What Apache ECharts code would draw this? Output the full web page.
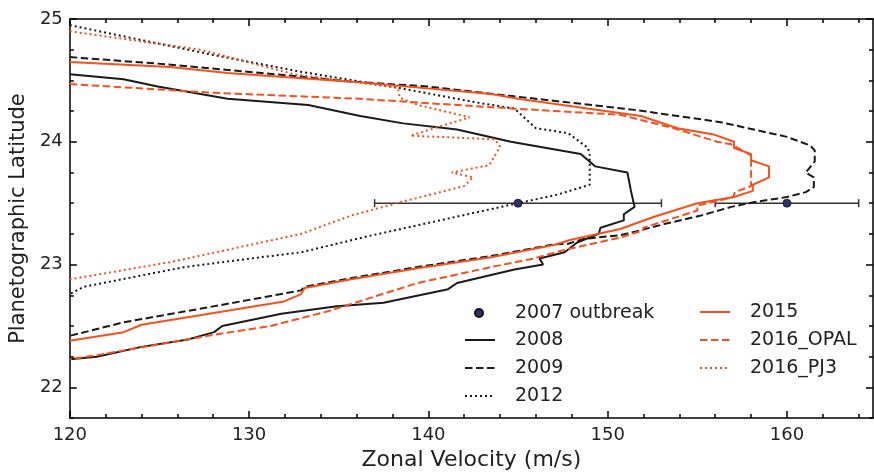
<!DOCTYPE html>
<html><head><meta charset="utf-8">
<script src="https://cdn.jsdelivr.net/npm/echarts@6/dist/echarts.min.js"></script>
<style>html,body{margin:0;padding:0;background:#fff}#c{width:874px;height:476px}</style>
</head><body><div id="c"></div>
<script>
// ---- data ----
const outbreakV = [145, 160];
const outbreakLat = [23.5, 23.5];
const outbreakErr = [8, 4];

const v2008 = [120.0,123.0,124.9,128.8,133.3,136.2,138.6,141.6,144.6,148.5,149.3,151.1,151.3,151.5,150.9,150.9,149.6,149.5,148.3,147.6,146.2,146.4,144.8,141.6,141.1,137.5,134.9,131.8,128.5,128.05,126.6,124.0,121.5,120.0];
const lat2008 = [24.55,24.51,24.45,24.35,24.30,24.21,24.15,24.10,24.00,23.90,23.80,23.75,23.60,23.47,23.41,23.36,23.30,23.25,23.18,23.10,23.05,23.00,22.96,22.85,22.80,22.69,22.66,22.60,22.50,22.45,22.39,22.33,22.25,22.23];

const v2009 = [120.0,125.5,132.9,135.7,140.0,144.8,151.5,156.3,160.0,161.3,161.55,161.55,161.05,161.5,161.5,161.05,160.0,158.2,156.9,155.2,153.15,151.85,150.7,148.7,147.8,147.0,143.5,139.4,135.7,133.1,132.9,128.4,123.0,120.0];
const lat2009 = [24.69,24.63,24.53,24.49,24.45,24.37,24.26,24.16,24.04,23.97,23.93,23.84,23.75,23.71,23.63,23.59,23.55,23.51,23.47,23.40,23.33,23.28,23.24,23.21,23.17,23.165,23.07,22.98,22.89,22.82,22.79,22.67,22.53,22.42];

const v2012 = [120.0,127.9,132.9,138.3,142.7,144.8,146.0,147.8,148.9,149.0,149.0,147.2,145.0,141.25,136.6,132.9,130.65,126.4,120.8,120.0];
const lat2012 = [24.95,24.71,24.57,24.44,24.32,24.27,24.11,24.07,23.95,23.89,23.65,23.57,23.50,23.38,23.23,23.10,23.06,22.98,22.82,22.76];

const v2015 = [120.0,125.6,128.8,135.7,143.5,145.0,151.85,153.9,155.9,157.05,157.05,158.0,158.0,159.0,159.0,158.1,158.1,157.05,155.0,152.6,150.7,147.9,147.0,143.5,139.4,135.7,133.1,132.9,131.95,124.0,123.0,120.0];
const lat2015 = [24.65,24.61,24.56,24.49,24.39,24.35,24.21,24.11,24.06,24.00,23.95,23.90,23.85,23.80,23.71,23.65,23.60,23.55,23.50,23.39,23.29,23.20,23.16,23.06,22.97,22.88,22.81,22.76,22.70,22.51,22.45,22.38];

const vOPAL = [120.0,127.9,136.2,144.8,150.7,153.7,156.1,156.9,158.0,158.0,157.1,157.0,155.0,155.0,152.0,152.0,150.7,147.6,145.9,143.5,139.4,135.7,134.4,131.2,128.1,121.4,120.0];
const latOPAL = [24.47,24.40,24.35,24.27,24.22,24.11,24.00,23.98,23.89,23.64,23.59,23.55,23.48,23.44,23.30,23.28,23.22,23.12,23.05,22.98,22.85,22.68,22.62,22.50,22.43,22.26,22.23];

const vPJ3 = [120.0,127.3,132.5,138.3,138.4,139.4,142.3,139.0,143.7,144.0,143.4,141.3,142.5,142.0,138.5,135.7,132.9,125.6,120.0];
const latPJ3 = [24.90,24.75,24.55,24.44,24.36,24.30,24.20,24.05,24.02,23.96,23.81,23.75,23.71,23.64,23.51,23.40,23.25,23.02,22.88];

const xMajor = [120, 130, 140, 150, 160];
const xMinor = [122,124,126,128,132,134,136,138,142,144,146,148,152,154,156,158,162,164];
const yMajor = [22, 23, 24, 25];
const yMinor = [21.75,22.25,22.5,22.75,23.25,23.5,23.75,24.25,24.5,24.75];

// ---- build ----
const zip = (a, b) => a.map((v, i) => [v, b[i]]);
const ORANGE = '#f4511e';
const BLACK = '#1a1a1a';
const FONT = 'DejaVu Sans';
const X_MIN = 120, X_MAX = 164.8, Y_MIN = 21.75, Y_MAX = 25;

function xAx(pos, ticks, len, showLine, showLabel, extra) {
  return Object.assign({
    type: 'value', min: X_MIN, max: X_MAX, position: pos,
    axisLine: { show: showLine, onZero: false, lineStyle: { color: '#000', width: 1.5 } },
    axisTick: { show: true, inside: true, length: len, customValues: ticks, lineStyle: { color: '#000', width: 1.5 } },
    axisLabel: { show: showLabel, customValues: ticks, fontFamily: FONT, fontSize: 18, color: '#222', margin: 8 },
    splitLine: { show: false }
  }, extra || {});
}
function yAx(pos, ticks, len, showLine, showLabel, extra) {
  return Object.assign({
    type: 'value', min: Y_MIN, max: Y_MAX, position: pos,
    axisLine: { show: showLine, onZero: false, lineStyle: { color: '#000', width: 1.5 } },
    axisTick: { show: true, inside: true, length: len, customValues: ticks, lineStyle: { color: '#000', width: 1.5 } },
    axisLabel: { show: showLabel, customValues: ticks, fontFamily: FONT, fontSize: 18, color: '#222', margin: 7 },
    splitLine: { show: false }
  }, extra || {});
}

function lineSeries(name, xs, ys, color, type) {
  return {
    name, type: 'line', data: zip(xs, ys), symbol: 'none', showSymbol: false,
    lineStyle: { color, width: 2, type }, itemStyle: { color },
    xAxisIndex: 0, yAxisIndex: 0, animation: false, z: 3
  };
}

const legendText = (pad) => ({ fontFamily: FONT, fontSize: 19, color: '#222', padding: [0, 0, 0, pad], lineHeight: 20 });

const chart = echarts.init(document.getElementById('c'), null, { renderer: 'canvas' });
chart.setOption({
  animation: false,
  grid: { left: 69, right: 1, top: 19, bottom: 53, containLabel: false },
  xAxis: [
    xAx('bottom', xMajor, 7, true, true, { name: 'Zonal Velocity (m/s)', nameLocation: 'middle', nameGap: 29,
      nameTextStyle: { fontFamily: FONT, fontSize: 22, color: '#222' } }),
    xAx('bottom', xMinor, 4, false, false),
    xAx('top', xMajor, 7, true, false),
    xAx('top', xMinor, 4, false, false)
  ],
  yAxis: [
    yAx('left', yMajor, 7, true, true, { name: 'Planetographic Latitude', nameLocation: 'middle', nameGap: 31, nameRotate: 90,
      nameTextStyle: { fontFamily: FONT, fontSize: 21, color: '#222' } }),
    yAx('left', yMinor, 4, false, false),
    yAx('right', yMajor, 7, true, false),
    yAx('right', yMinor, 4, false, false)
  ],
  legend: [
    { data: [{ name: '2007 outbreak', icon: 'circle' }], orient: 'vertical', left: 469, top: 298, itemWidth: 30, itemHeight: 8,
      textStyle: legendText(16) },
    { data: ['2008', '2009', '2012'], orient: 'vertical', left: 459, top: 325, itemWidth: 30, itemHeight: 14, itemGap: 8,
      itemStyle: { opacity: 0 }, textStyle: legendText(15) },
    { data: ['2015', '2016_OPAL', '2016_PJ3'], orient: 'vertical', left: 694, top: 297, itemWidth: 30, itemHeight: 14, itemGap: 8,
      itemStyle: { opacity: 0 }, textStyle: legendText(15) }
  ],
  series: [
    {
      name: 'errbars', type: 'custom', xAxisIndex: 0, yAxisIndex: 0, z: 2,
      data: outbreakV.map((v, i) => [v, outbreakLat[i], outbreakErr[i]]),
      renderItem: function (params, api) {
        const x = api.value(0), y = api.value(1), e = api.value(2);
        const p1 = api.coord([x - e, y]), p2 = api.coord([x + e, y]);
        const st = { stroke: '#333', lineWidth: 1.5 };
        return { type: 'group', children: [
          { type: 'line', shape: { x1: p1[0], y1: p1[1], x2: p2[0], y2: p2[1] }, style: st },
          { type: 'line', shape: { x1: p1[0], y1: p1[1] - 4, x2: p1[0], y2: p1[1] + 4 }, style: st },
          { type: 'line', shape: { x1: p2[0], y1: p2[1] - 4, x2: p2[0], y2: p2[1] + 4 }, style: st }
        ] };
      }
    },
    lineSeries('2008', v2008, lat2008, BLACK, 'solid'),
    lineSeries('2009', v2009, lat2009, BLACK, [7.5, 3.5]),
    lineSeries('2012', v2012, lat2012, BLACK, [2, 3]),
    lineSeries('2015', v2015, lat2015, ORANGE, 'solid'),
    lineSeries('2016_OPAL', vOPAL, latOPAL, ORANGE, [7.5, 3.5]),
    lineSeries('2016_PJ3', vPJ3, latPJ3, ORANGE, [2, 3]),
    {
      name: '2007 outbreak', type: 'scatter', xAxisIndex: 0, yAxisIndex: 0, z: 5,
      data: zip(outbreakV, outbreakLat), symbol: 'circle', symbolSize: 8,
      itemStyle: { color: '#2a3070', borderColor: '#111', borderWidth: 0.8, opacity: 1 }
    }
  ]
});
</script></body></html>
